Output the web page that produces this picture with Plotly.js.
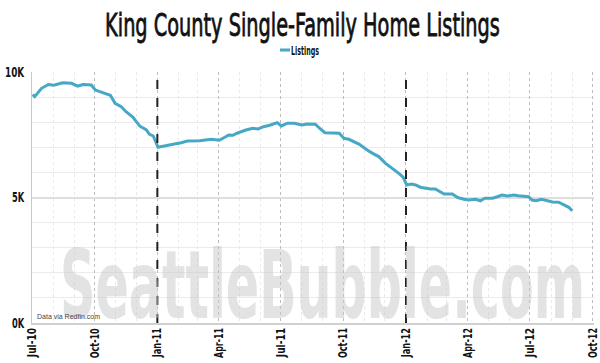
<!DOCTYPE html>
<html><head><meta charset="utf-8">
<script src="https://cdn.plot.ly/plotly-3.0.1.min.js"></script>
<style>html,body{margin:0;padding:0;background:#fff}#chart{width:600px;height:363px}</style>
</head><body><div id="chart"></div>
<script>
const dates = ['2010-07-02','2010-07-05','2010-07-15','2010-07-25','2010-08-02','2010-08-15','2010-08-28','2010-09-06','2010-09-14','2010-09-26',
'2010-10-02','2010-10-13','2010-10-24','2010-10-31','2010-11-09','2010-11-16','2010-11-26','2010-12-06','2010-12-16','2010-12-20','2010-12-26',
'2011-01-02','2011-01-11','2011-01-26','2011-02-05','2011-02-14','2011-03-04','2011-03-21','2011-04-02','2011-04-09','2011-04-16','2011-04-22','2011-04-28',
'2011-05-11','2011-05-21','2011-05-29','2011-06-06','2011-06-16','2011-06-26','2011-07-02','2011-07-11','2011-07-21','2011-08-01','2011-08-09','2011-08-21','2011-08-27',
'2011-09-04','2011-09-15','2011-09-25','2011-10-02','2011-10-09','2011-10-24','2011-11-05','2011-11-15','2011-11-22','2011-12-02','2011-12-12','2011-12-22','2011-12-28',
'2012-01-02','2012-01-09','2012-01-15','2012-01-22','2012-01-30','2012-02-06','2012-02-13','2012-02-18','2012-02-26','2012-03-09','2012-03-17','2012-03-26',
'2012-04-02','2012-04-12','2012-04-19','2012-04-26','2012-05-07','2012-05-14','2012-05-21','2012-05-29','2012-06-07','2012-06-14','2012-06-23','2012-06-29',
'2012-07-04','2012-07-10','2012-07-18','2012-07-26','2012-08-03','2012-08-12','2012-08-19','2012-08-27','2012-09-01'];
const listings = [9100,9020,9350,9500,9470,9570,9550,9440,9500,9480,
9280,9190,9070,8750,8620,8420,8200,7850,7690,7530,7450,
7000,7060,7130,7180,7250,7260,7320,7280,7370,7490,7480,7560,
7690,7760,7730,7820,7890,7980,7850,7960,7960,7890,7930,7920,7760,
7580,7570,7560,7360,7320,7130,6890,6730,6630,6360,6160,5950,5800,
5500,5540,5500,5410,5370,5340,5340,5270,5140,5140,5000,4930,
4900,4930,4870,4970,4970,5030,5100,5060,5100,5070,5060,5030,
4900,4870,4930,4870,4820,4810,4730,4610,4470];
const seriesName = 'Listings';
const yTickVals = [0, 5000, 10000];
const yTickText = ['0K', '5K', '10K'];
const yearMarkers = ['2011-01-01', '2012-01-01'];
const xRange = ['2010-07-01', '2012-10-03'];
const titleText = 'King County Single-Family Home Listings';
const sourceText = 'Data via Redfin.com';
const watermarkText = 'SeattleBubble.com';

const narrow = '"Liberation Sans Narrow", "DejaVu Sans Condensed", Arial, sans-serif';

const trace = {
  x: dates, y: listings, type: 'scatter', mode: 'lines', name: seriesName,
  line: {color: '#47a8c5', width: 3}
};

const shapes = yearMarkers.map(d => ({
  type: 'line', xref: 'x', yref: 'paper', x0: d, x1: d, y0: 0, y1: 1,
  line: {color: '#222', width: 2, dash: 'dash'}, layer: 'above'
}));

const layout = {
  width: 600, height: 363,
  margin: {l: 32, r: 6, t: 72, b: 40},
  paper_bgcolor: '#fff', plot_bgcolor: '#fff',
  title: {text: titleText, x: 0.5, xref: 'container', y: 0.932, yref: 'container', yanchor: 'middle',
          font: {family: narrow, size: 32, color: '#111'}},
  showlegend: true,
  legend: {orientation: 'h', x: 0.5, xanchor: 'center', xref: 'container', y: 0.862, yref: 'container', yanchor: 'middle',
           font: {family: narrow, size: 12, color: '#111', weight: 'bold'}, itemwidth: 30},
  xaxis: {
    type: 'date', range: xRange, tick0: '2010-07-01', dtick: 'M3', tickformat: '%b-%y',
    tickangle: -90, tickfont: {family: narrow, size: 12, color: '#111', weight: 'bold'},
    ticklabeloverflow: 'allow',
    showgrid: true, gridcolor: '#bdbdbd', griddash: 'dot', gridwidth: 1,
    minor: {dtick: 'M1', showgrid: true, gridcolor: '#e9e9e9', gridwidth: 1},
    showline: true, linecolor: '#d0d0d0', linewidth: 2, zeroline: false, ticks: '', ticklabelstandoff: 4
  },
  yaxis: {
    range: [0, 10000], tickvals: yTickVals, ticktext: yTickText,
    tickfont: {family: narrow, size: 14, color: '#111', weight: 'bold'},
    showgrid: true, gridcolor: '#dedede', gridwidth: 2,
    minor: {dtick: 1000, showgrid: true, gridcolor: '#ebebeb', gridwidth: 1},
    showline: true, linecolor: '#c8c8c8', linewidth: 1, zeroline: false, ticks: '', ticklabelstandoff: 6
  },
  shapes: shapes,
  annotations: [
    {text: watermarkText, xref: 'paper', yref: 'paper', x: 0.516, y: -0.075, xanchor: 'center', yanchor: 'bottom',
     showarrow: false, font: {family: narrow, size: 94, color: 'rgba(200,200,200,0.5)', weight: 'bold'}},
    {text: sourceText, xref: 'paper', yref: 'paper', x: 0.005, y: 0.005, xanchor: 'left', yanchor: 'bottom',
     showarrow: false, font: {family: 'Arial, "Liberation Sans", sans-serif', size: 7, color: '#444'}}
  ]
};

function squeeze(el, left, right) {
  if (!el) return;
  const bb = el.getBBox();
  const r = el.getBoundingClientRect();
  const s = (right - left) / r.width;
  const cxLocal = bb.x + bb.width / 2;
  const curCenter = r.left + r.width / 2;
  const dx = (left + right) / 2 - curCenter;
  const prev = el.getAttribute('transform') || '';
  el.setAttribute('transform', prev + ` translate(${cxLocal + dx},0) scale(${s},1) translate(${-cxLocal},0)`);
}

function squeezeTick(el, top, len) {
  const bb = el.getBBox();
  const r = el.getBoundingClientRect();
  const s = len / r.height;
  const ax = bb.x + bb.width, ay = bb.y + bb.height / 2;
  const prev = el.getAttribute('transform') || '';
  el.setAttribute('transform', prev + ` translate(${ax},${ay}) scale(${s},1) translate(${-ax},${-ay})`);
  const r2 = el.getBoundingClientRect();
  const dy = top - r2.top;
  el.setAttribute('transform', `translate(0,${dy}) ` + el.getAttribute('transform'));
}

Plotly.newPlot('chart', [trace], layout, {staticPlot: true}).then(gd => {
  const tt = gd.querySelector('.gtitle');
  if (tt) {
    tt.style.stroke = '#111';
    tt.style.strokeWidth = '0.8px';
    squeeze(tt, 105, 500);
  }
  const ann = gd.querySelectorAll('.annotation-text');
  ann.forEach(t => { if (t.textContent === watermarkText) squeeze(t, 60, 585); });
  const lt = gd.querySelector('.legend .legendtext');
  const lp = gd.querySelector('.legend .legendlines path');
  if (lp) lp.setAttribute('d', 'M29,0h10');
  if (lt) squeeze(lt, 291, 319);
  if (lp) {
    const r = lp.getBoundingClientRect();
    const dx = 280 - r.left;
    lp.setAttribute('transform', `translate(${dx},0)`);
  }
  gd.querySelectorAll('.xtick text').forEach(t => squeezeTick(t, 328, 30));
  gd.querySelectorAll('.ytick text').forEach(t => {
    const w = t.textContent.length === 3 ? 20 : 13;
    squeeze(t, 25 - w, 25);
  });
});
</script></body></html>
